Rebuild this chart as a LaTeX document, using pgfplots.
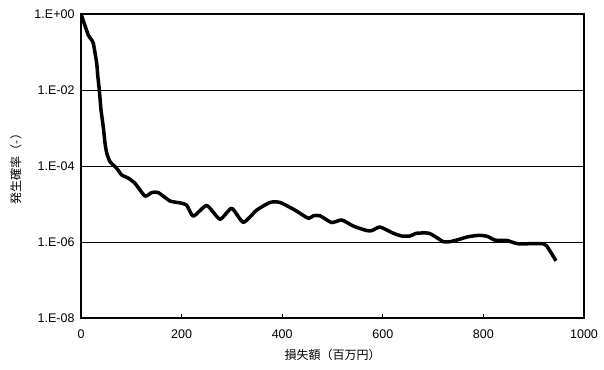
\documentclass[border=0pt]{standalone}
\usepackage{pgfplots}
\pgfplotsset{compat=1.18}
\usepackage{fontspec}
\setmainfont{Liberation Sans}
\newfontfamily\jp{Noto Sans CJK JP}
\begin{document}
\begin{tikzpicture}
\begin{axis}[
  scale only axis, width=503pt, height=304pt,
  xmin=0, xmax=1000, ymode=log, ymin=1e-8, ymax=1,
  xtick={0,200,400,600,800,1000},
  xticklabels={0,200,400,600,800,1000},
  ytick={1e-8,1e-6,1e-4,1e-2,1},
  yticklabels={1.E-08,1.E-06,1.E-04,1.E-02,1.E+00},
  ymajorgrids, grid style={black, line width=0.9pt},
  axis line style={line width=1.6pt},
  tick align=inside, xtick pos=left, ytick pos=left,
  major tick length=4pt,
  ytick style={draw=none}, minor tick style={draw=none},
  xtick style={black, line width=1pt},
  ticklabel style={font=\fontsize{12.5}{14}\selectfont},
  yticklabel style={xshift=-3pt},
  xticklabel style={yshift=-8pt},
  xlabel={\jp 損失額（百万円）},
  ylabel={\jp 発生確率（-）},
  label style={font=\fontsize{12}{14}\selectfont},
  xlabel style={yshift=-4pt},
  ylabel style={yshift=6pt},
]
\addplot[black, line width=3.5pt, line join=round, smooth, tension=0.35] coordinates {
(0,1) (1.4,0.885) (14.5,0.28) (21.3,0.207) (24.5,0.17) (31.2,0.051) (33.2,0.0248)
(36.4,0.01) (39.8,0.00297) (44.3,0.00107) (47.7,4.05e-4) (51.1,2.2e-4) (57.7,1.3e-4)
(71,8.7e-5) (80.9,5.8e-5) (94,4.8e-5) (107.4,3.5e-5) (127.2,1.62e-5) (140.5,2.0e-5)
(153.7,2.0e-5) (176.9,1.2e-5) (196.8,1.07e-5) (210,9.4e-6) (223.3,4.8e-6) (250,9.1e-6)
(276.3,3.98e-6) (299.6,7.7e-6) (322.6,3.3e-6) (349.3,6.9e-6) (375.7,1.1e-5) (395.6,1.1e-5)
(425.4,6.9e-6) (451.9,4.2e-6) (461.8,4.9e-6) (475.1,4.9e-6) (498.4,3.25e-6) (518.3,3.8e-6)
(541.3,2.63e-6) (568,2.0e-6) (578.5,2.0e-6) (594.4,2.48e-6) (620.9,1.7e-6) (637.6,1.44e-6)
(654,1.44e-6) (667.4,1.7e-6) (691.8,1.7e-6) (710.3,1.23e-6) (720.3,1.02e-6) (733.6,1.02e-6)
(747.5,1.13e-6) (770,1.38e-6) (793.2,1.5e-6) (809,1.39e-6) (823,1.12e-6) (846.3,1.1e-6)
(869.3,9.0e-7) (919,9.0e-7) (929,6.8e-7) (944.3,3.2e-7)
};
\end{axis}
\path ([xshift=-81pt,yshift=14pt]current axis.north west) rectangle ([xshift=20pt,yshift=-51pt]current axis.south east);
\end{tikzpicture}
\end{document}
